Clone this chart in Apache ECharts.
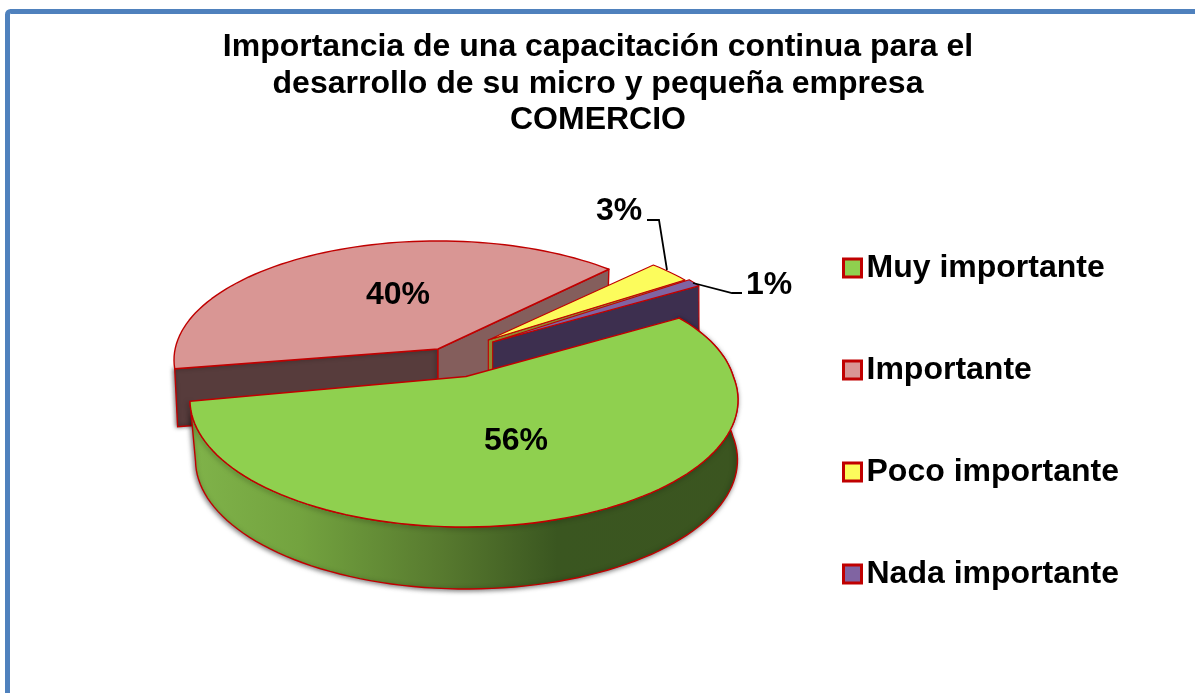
<!DOCTYPE html>
<html><head><meta charset="utf-8">
<script src="https://cdn.jsdelivr.net/npm/echarts@6/dist/echarts.min.js"></script>
<style>html,body{margin:0;padding:0;background:#fff}#c{width:1195px;height:693px}</style>
</head><body><div id="c"></div>
<script>
const titleLines = ['Importancia de una capacitación continua para el','desarrollo de su micro y pequeña empresa','COMERCIO'];
const categories = ['Muy importante','Importante','Poco importante','Nada importante'];
const values = [55.5, 40.3, 3.1, 1.1];
const topColors = ['#8fd04f','#d99694','#fcfc5c','#8064a2'];
const wallColors = ['#56782e','#573c3c','#8f8a33','#3d2f4f'];
const radialColors = ['#56782e','#845e5c','#8f8a33','#3d2f4f'];
const startAngle = -31;
const EDGE = '#c00000', FONT = '"Liberation Sans", Arial, sans-serif';
// projected geometry of each exploded slice: apex, ellipse centre x, ellipse semi axes, perspective
const geometry = [
  {apex:[466,376.5], cx:464, a:274, b:127, k:0.185, z:5, nudge:-0.5, skew:13, depth:60, slope:2, shift:2.5, lw:1.4, label:[516,441], leader:null},
  {apex:[438,349],   cx:438, a:264, b:119, k:0.092, z:2, nudge:1.7, skew:0, depth:58, slope:0, shift:0, lw:1.4, label:[398,295], leader:null},
  {apex:[488.3,340], cx:488.3, a:247, b:108, k:0.05, z:3, nudge:0, skew:0, depth:60, slope:0, shift:2.5, lw:1.1, label:[619,211], leader:[[647,220],[659,220],[667,270]]},
  {apex:[492.7,342], cx:492.7, a:247, b:112, k:0.05, z:4, nudge:0, skew:0, depth:60, slope:0, shift:2.5, lw:1.1, label:[769,285], leader:[[693,283],[732,293],[742,293]]}
];
const total = values.reduce((s,v)=>s+v,0);
function pt(g,deg){
  const t=deg*Math.PI/180,u=Math.cos(t),v=Math.sin(t),w=1-g.k*v;
  const A=g.a*Math.sqrt(1-g.k*g.k),B=g.b*(1-g.k*g.k);
  return [g.cx+A*u/w+g.skew*Math.max(0,-v)*Math.max(0,u),g.apex[1]+B*v/w];
}
function down(g,p){ // same point on the lower face of the disc
  return [g.cx+g.shift+(p[0]-g.cx)*0.989,p[1]+g.depth+g.slope*(p[1]-g.apex[1]-23.5)/127];
}
function arc(g,a0,a1){const o=[];const n=Math.max(4,Math.ceil(Math.abs(a1-a0)/2));for(let i=0;i<=n;i++)o.push(pt(g,a0+(a1-a0)*i/n));return o;}
function poly(points,fill,lw){return {type:'polygon',shape:{points},style:{fill,stroke:EDGE,lineWidth:lw,lineJoin:'round'}};}
function renderSlice(i){
  return function(){
    const g=geometry[i];
    let a0=startAngle;for(let j=0;j<i;j++)a0+=values[j]/total*360;
    const a1=a0+values[i]/total*360;
    const outer=arc(g,a0+g.nudge,a1);
    const first=outer[0],last=outer[outer.length-1];
    const kids=[];
    const apexD=[g.apex[0],g.apex[1]+g.depth];
    if(i===0){
      const lower=outer.map(p=>down(g,p)).reverse();
      kids.push({type:'polygon',shape:{points:outer.concat(lower)},style:{
        fill:{type:'linear',x:0,y:0,x2:1,y2:0,colorStops:[
          {offset:0,color:'#80b34a'},{offset:.2,color:'#73a33f'},{offset:.47,color:'#56782e'},{offset:.67,color:'#3a5620'},{offset:1,color:'#3b5520'}]},
        stroke:EDGE,lineWidth:g.lw,shadowBlur:5,shadowColor:'rgba(0,0,0,.55)',shadowOffsetX:-1,shadowOffsetY:1}});
    } else if(i===1){
      kids.push({type:'polygon',shape:{points:[first,down(g,first),apexD,g.apex]},style:{fill:wallColors[i],stroke:EDGE,lineWidth:g.lw,shadowBlur:4,shadowColor:'rgba(0,0,0,.5)',shadowOffsetX:-1}});
      kids.push(poly([g.apex,apexD,down(g,last),last],radialColors[i],g.lw));
    } else {
      kids.push(poly([g.apex,apexD,down(g,last),last],wallColors[i],g.lw));
    }
    kids.push(poly([g.apex].concat(outer),topColors[i],g.lw));
    if(g.leader) kids.push({type:'polyline',shape:{points:g.leader},style:{fill:'none',stroke:'#000',lineWidth:1.8}});
    kids.push({type:'text',style:{text:Math.round(values[i]/total*100)+'%',x:g.label[0],y:g.label[1],align:'center',verticalAlign:'middle',font:'bold 32px '+FONT,fill:'#000'}});
    return {type:'group',children:kids};
  };
}
const chart=echarts.init(document.getElementById('c'),null,{renderer:'canvas'});
chart.setOption({
  animation:false,
  backgroundColor:'#fff',
  title:{text:titleLines.join('\n'),left:598,top:29,textAlign:'center',padding:0,
    textStyle:{fontFamily:FONT,fontSize:32,fontWeight:'bold',color:'#000',lineHeight:36.5}},
  legend:{orient:'vertical',left:842,top:250,padding:0,itemWidth:18,itemHeight:18,itemGap:66,icon:'rect',selectedMode:false,
    textStyle:{fontFamily:FONT,fontSize:32,fontWeight:'bold',color:'#000',lineHeight:36},
    data:categories.map((name,i)=>({name,icon:'rect',itemStyle:{color:topColors[i],borderColor:EDGE,borderWidth:3}}))},
  graphic:[{type:'rect',silent:true,z:100,shape:{x:7.5,y:11.5,width:1400,height:900,r:3},style:{fill:'none',stroke:'#4f81bd',lineWidth:5}}],
  series:categories.map((name,i)=>({
    type:'custom',name,coordinateSystem:'none',z:geometry[i].z,silent:true,
    itemStyle:{color:topColors[i]},
    data:[[values[i]]],
    renderItem:renderSlice(i)
  }))
});
</script></body></html>
